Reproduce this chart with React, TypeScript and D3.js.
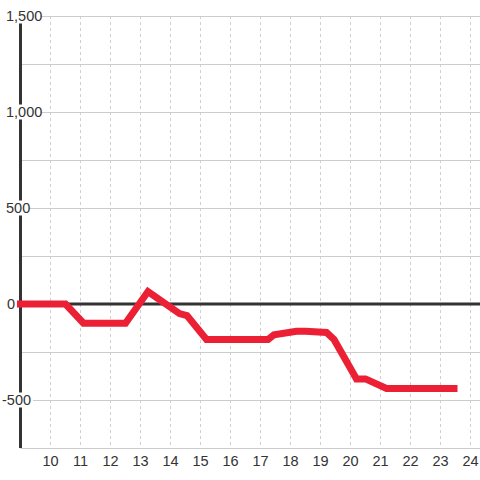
import React from "react";
import * as d3 from "d3";

const xValues = [9, 10.5, 11.1, 12.5, 13.25, 14.3, 14.55, 15.2, 17.25, 17.45, 18.2, 18.5, 19.2, 19.45, 20.2, 20.5, 21.2, 23.45];
const yValues = [0, 0, -100, -100, 65, -50, -60, -185, -185, -160, -142, -142, -148, -185, -390, -390, -440, -440];
const xTicks = [10, 11, 12, 13, 14, 15, 16, 17, 18, 19, 20, 21, 22, 23, 24];
const yGrid = [-750, -500, -250, 0, 250, 500, 750, 1000, 1250, 1500];
const yLabels = [-500, 0, 500, 1000, 1500];

const W = 480;
const H = 480;
const FONT = "'Liberation Sans', Arial, sans-serif";

export default function App() {
  const x = d3.scaleLinear().domain([9, 24]).range([20.5, 470.5]);
  const y = d3.scaleLinear().domain([-750, 1500]).range([448, 16]);
  const fmt = d3.format(",");
  const data = xValues.map((v, i) => [v, yValues[i]] as [number, number]);
  const line = d3
    .line<[number, number]>()
    .x((d) => x(d[0]))
    .y((d) => y(d[1]));

  return (
    <svg
      width={W}
      height={H}
      style={{ position: "absolute", left: 0, top: 0, display: "block", background: "#fff" }}
    >
      {/* vertical dashed grid */}
      {xTicks.map((t) => (
        <line
          key={"vx" + t}
          x1={x(t)}
          x2={x(t)}
          y1={y(1500)}
          y2={y(-750)}
          stroke="#cfcfcf"
          strokeWidth={1}
          strokeDasharray="3,3"
        />
      ))}
      {/* horizontal grid */}
      {yGrid.map((t) => (
        <line
          key={"hy" + t}
          x1={x(9)}
          x2={W}
          y1={Math.round(y(t)) + 0.5}
          y2={Math.round(y(t)) + 0.5}
          stroke="#cccccc"
          strokeWidth={1}
        />
      ))}
      {/* y axis */}
      <line x1={x(9)} x2={x(9)} y1={y(1500)} y2={y(-750)} stroke="#333" strokeWidth={3} />
      {/* y labels with white background */}
      {yLabels.map((t) => {
        const label = t < 0 ? "-" + fmt(-t) : fmt(t);
        const tx = t < 0 ? 2 : t === 0 ? 7 : 6;
        const w = label.length * 8 + (t >= 1000 ? -4 : 0);
        return (
          <g key={"yl" + t}>
            <rect x={tx - 1} y={y(t) - 7.5} width={t === 0 ? 10 : w} height={15} fill="#fff" />
            <text
              x={tx}
              y={y(t)}
              dy="0.36em"
              fontFamily={FONT}
              fontSize={14.5}
              fill="#333"
            >
              {label}
            </text>
          </g>
        );
      })}
      {/* zero line */}
      <line x1={x(9)} x2={W} y1={y(0)} y2={y(0)} stroke="#333" strokeWidth={3} />
      {/* x labels */}
      {xTicks.map((t) => (
        <text
          key={"xl" + t}
          x={x(t)}
          y={466}
          textAnchor="middle"
          fontFamily={FONT}
          fontSize={14.5}
          fill="#333"
        >
          {t}
        </text>
      ))}
      {/* data line */}
      <path
        d={line(data) || ""}
        fill="none"
        stroke="#ec2035"
        strokeWidth={7}
        strokeLinejoin="miter"
        strokeLinecap="square"
      />
    </svg>
  );
}
